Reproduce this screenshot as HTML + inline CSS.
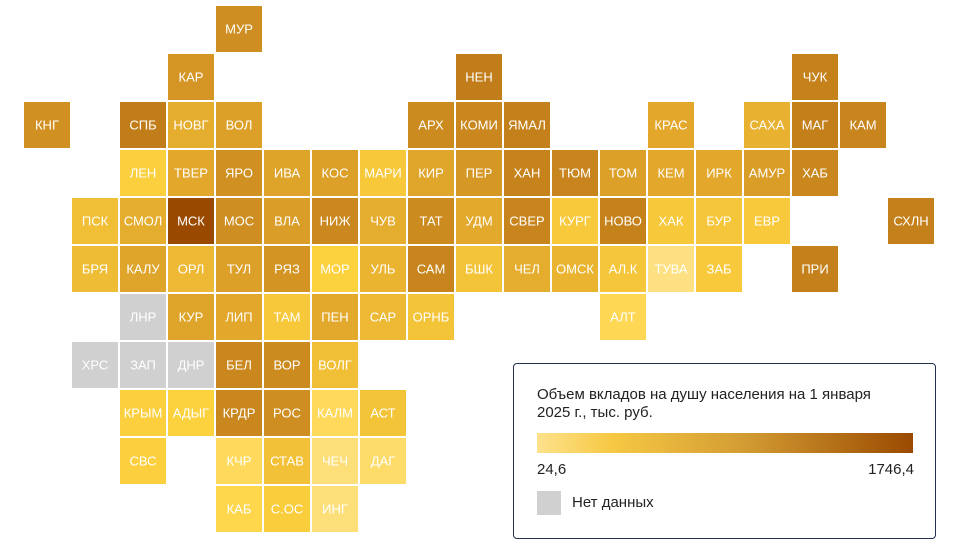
<!DOCTYPE html>
<html><head><meta charset="utf-8">
<style>
body{margin:0;background:#fff;width:960px;height:560px;overflow:hidden;font-family:"Liberation Sans","DejaVu Sans",sans-serif;}
svg{display:block}
#legend{position:absolute;left:513px;top:363px;width:423px;height:176px;border:1.5px solid #22304d;border-radius:4px;box-sizing:border-box;background:#fff}
</style></head><body>
<svg id="chart" width="960" height="560"></svg>
<div id="legend">
  <div style="position:absolute;left:23px;top:22px;width:362px;font-size:15px;line-height:18px;color:#222">Объем вкладов на душу населения на 1 января 2025 г., тыс. руб.</div>
  <div style="position:absolute;left:23px;top:69px;width:376px;height:20px;background:linear-gradient(to right,#fde28c 0%,#f6c843 20%,#d39c33 55%,#9a4a00 100%)"></div>
  <div style="position:absolute;left:23px;top:97px;font-size:15px;color:#222">24,6</div>
  <div style="position:absolute;right:21px;top:97px;font-size:15px;color:#222">1746,4</div>
  <div style="position:absolute;left:23px;top:127px;width:24px;height:24px;background:#d0d0d0"></div>
  <div style="position:absolute;left:58px;top:130px;font-size:15px;color:#222">Нет данных</div>
</div>
<script>
const codes=["МУР","КАР","НЕН","ЧУК","КНГ","СПБ","НОВГ","ВОЛ","АРХ","КОМИ","ЯМАЛ","КРАС","САХА","МАГ","КАМ",
"ЛЕН","ТВЕР","ЯРО","ИВА","КОС","МАРИ","КИР","ПЕР","ХАН","ТЮМ","ТОМ","КЕМ","ИРК","АМУР","ХАБ",
"ПСК","СМОЛ","МСК","МОС","ВЛА","НИЖ","ЧУВ","ТАТ","УДМ","СВЕР","КУРГ","НОВО","ХАК","БУР","ЕВР","СХЛН",
"БРЯ","КАЛУ","ОРЛ","ТУЛ","РЯЗ","МОР","УЛЬ","САМ","БШК","ЧЕЛ","ОМСК","АЛ.К","ТУВА","ЗАБ","ПРИ",
"ЛНР","КУР","ЛИП","ТАМ","ПЕН","САР","ОРНБ","АЛТ",
"ХРС","ЗАП","ДНР","БЕЛ","ВОР","ВОЛГ",
"КРЫМ","АДЫГ","КРДР","РОС","КАЛМ","АСТ",
"СВС","КЧР","СТАВ","ЧЕЧ","ДАГ",
"КАБ","С.ОС","ИНГ"];
const cols=[4,3,9,16,0,2,3,4,8,9,10,13,15,16,17,
2,3,4,5,6,7,8,9,10,11,12,13,14,15,16,
1,2,3,4,5,6,7,8,9,10,11,12,13,14,15,18,
1,2,3,4,5,6,7,8,9,10,11,12,13,14,16,
2,3,4,5,6,7,8,12,
1,2,3,4,5,6,
2,3,4,5,6,7,
2,4,5,6,7,
4,5,6];
const rows=[0,1,1,1,2,2,2,2,2,2,2,2,2,2,2,
3,3,3,3,3,3,3,3,3,3,3,3,3,3,3,
4,4,4,4,4,4,4,4,4,4,4,4,4,4,4,4,
5,5,5,5,5,5,5,5,5,5,5,5,5,5,5,
6,6,6,6,6,6,6,6,
7,7,7,7,7,7,
8,8,8,8,8,8,
9,9,9,9,9,
10,10,10];
const values=[500,450,700,600,480,700,300,380,520,550,620,330,280,650,560,
150,330,480,360,380,180,340,430,580,560,380,330,330,400,550,
220,300,1746.4,500,400,540,300,520,320,560,170,600,180,190,170,620,
230,350,250,380,460,140,270,560,200,300,270,190,40,170,620,
null,350,330,180,320,250,200,100,
null,null,null,550,520,220,
150,140,550,500,90,200,
150,90,210,50,70,
110,160,50];
const vMin=24.6, vMax=1746.4;
const stops=[[0,[253,226,140]],[0.06,[254,212,63]],[0.17,[227,169,44]],[0.32,[198,131,28]],[1,[154,74,0]]];
function color(v){
  if(v===null) return "#d0d0d0";
  const t=Math.max(0,Math.min(1,(v-vMin)/(vMax-vMin)));
  for(let i=1;i<stops.length;i++){
    if(t<=stops[i][0]){
      const a=stops[i-1],b=stops[i],f=(t-a[0])/(b[0]-a[0]);
      const c=a[1].map((x,k)=>Math.round(x+(b[1][k]-x)*f));
      return "rgb("+c.join(",")+")";
    }
  }
  return "rgb(154,74,0)";
}
const xPos=c=>24+48*c, yPos=r=>6+48*r, S=46;
const svg=document.getElementById("chart"), NS="http://www.w3.org/2000/svg";
codes.forEach((code,i)=>{
  const g=document.createElementNS(NS,"g");
  
  
  const r=document.createElementNS(NS,"rect");
  r.setAttribute("x",xPos(cols[i]));r.setAttribute("y",yPos(rows[i]));
  r.setAttribute("width",S);r.setAttribute("height",S);
  r.setAttribute("fill",color(values[i]));
  
  
  const t=document.createElementNS(NS,"text");
  t.setAttribute("x",xPos(cols[i])+S/2);t.setAttribute("y",yPos(rows[i])+S/2+4.5);
  t.setAttribute("text-anchor","middle");t.setAttribute("fill","#fff");
  t.setAttribute("font-size","13");
  
  
  t.textContent=code;
  g.appendChild(r);g.appendChild(t);svg.appendChild(g);
});
</script>
</body></html>
